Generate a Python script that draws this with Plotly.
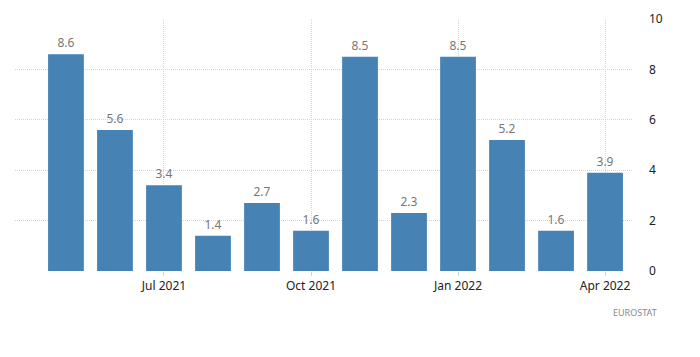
import plotly.graph_objects as go

months = ["May 2021", "Jun 2021", "Jul 2021", "Aug 2021", "Sep 2021", "Oct 2021",
          "Nov 2021", "Dec 2021", "Jan 2022", "Feb 2022", "Mar 2022", "Apr 2022"]
values = [8.6, 5.6, 3.4, 1.4, 2.7, 1.6, 8.5, 2.3, 8.5, 5.2, 1.6, 3.9]
tick_labels = ["Jul 2021", "Oct 2021", "Jan 2022", "Apr 2022"]
y_ticks = [0, 2, 4, 6, 8, 10]

fig = go.Figure(go.Bar(
    x=months, y=values,
    marker=dict(color="#4682B4", line=dict(width=0)),
    width=0.73,
    text=[f"{v:.1f}" for v in values],
    textposition="outside",
    textfont=dict(color="#777777", size=12, family="Noto Sans"),
    cliponaxis=False,
))

# page body has an 8px margin, so the figure is drawn at (8, 8)
fig.update_layout(
    width=692, height=349,
    margin=dict(l=7, r=68, t=11, b=86),
    paper_bgcolor="white", plot_bgcolor="white",
    showlegend=False,
    font=dict(family="Noto Sans", size=12, color="#222222"),
    bargap=0.27,
)
fig.update_xaxes(
    type="category",
    range=[-1.04, 11.55],
    tickmode="array", tickvals=tick_labels, ticktext=tick_labels,
    showgrid=True, gridcolor="#d4d4d4", griddash="1px,1px", gridwidth=1,
    ticks="outside", ticklen=4, tickcolor="#d4d4d4",
    showline=False, zeroline=False, automargin=False,
    tickfont=dict(size=12, color="#222222"),
)
fig.update_yaxes(
    side="right", range=[0, 10],
    tickvals=y_ticks,
    showgrid=True, gridcolor="#d4d4d4", griddash="1px,1px", gridwidth=1,
    zeroline=False, showline=False, automargin=False,
    ticklabelstandoff=16,
    tickfont=dict(size=12, color="#222222"),
)
fig.add_annotation(
    text="EUROSTAT", xref="paper", yref="paper",
    x=1.0 + 27/617, y=-41/252, xanchor="right", yanchor="middle",
    showarrow=False, font=dict(size=9, color="#888888", family="Noto Sans"),
)

fig.write_html("out.html")
